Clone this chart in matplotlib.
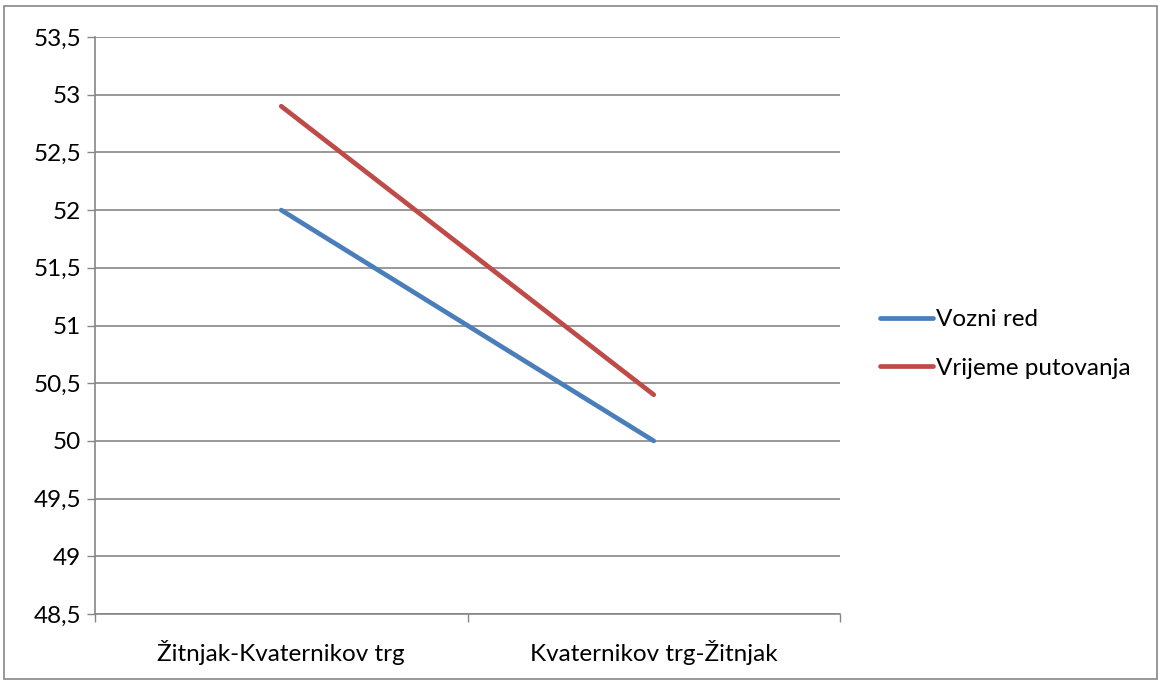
import matplotlib.pyplot as plt
from matplotlib.patches import Rectangle

categories = ['Žitnjak-Kvaternikov trg', 'Kvaternikov trg-Žitnjak']
vozni_red = [52.0, 50.0]
vrijeme_putovanja = [52.9, 50.4]
yticks = [48.5, 49, 49.5, 50, 50.5, 51, 51.5, 52, 52.5, 53, 53.5]

plt.rcParams['font.family'] = ['Lato', 'DejaVu Sans']
fs = 17.5

fig = plt.figure(figsize=(11.59, 6.81), dpi=100)
ax = fig.add_axes([95 / 1159, 1 - 614 / 681, 745 / 1159, 577 / 681])

x = range(len(categories))
ax.plot(x, vozni_red, color='#4A7EBB', lw=3.4, solid_capstyle='round', label='Vozni red')
ax.plot(x, vrijeme_putovanja, color='#BE4B48', lw=3.4, solid_capstyle='round', label='Vrijeme putovanja')

ax.set_xlim(-0.5, len(categories) - 0.5)
ax.set_ylim(48.5, 53.5)
ax.set_yticks(yticks)
ax.set_yticklabels([('%g' % v).replace('.', ',') for v in yticks], fontsize=fs)
ax.set_xticks(list(x))
ax.set_xticklabels(categories, fontsize=fs)
ax.tick_params(axis='x', length=0, pad=19)
ax.set_xticks([-0.5, 0.5, 1.5], minor=True)
ax.tick_params(axis='x', which='minor', length=6, color='#868686', width=1)
ax.tick_params(axis='y', length=6, color='#868686', width=1, pad=4)

ax.grid(axis='y', color='#868686', lw=1.2)
ax.set_axisbelow(True)
for s in ['top', 'right']:
    ax.spines[s].set_visible(False)
for s in ['left', 'bottom']:
    ax.spines[s].set_color('#868686')
    ax.spines[s].set_linewidth(1.2)

fig.legend(loc='center left', bbox_to_anchor=(880 / 1159, 1 - 344 / 681), frameon=False,
           fontsize=fs, handlelength=2.2, handletextpad=0.1, labelspacing=1.15,
           borderaxespad=0, borderpad=0)

fig.patches.append(Rectangle((4 / 1159, 2 / 681), 1153 / 1159, 673 / 681, transform=fig.transFigure,
                             fill=False, edgecolor='#868686', lw=1.2))

fig.savefig('out.png', dpi=100)
